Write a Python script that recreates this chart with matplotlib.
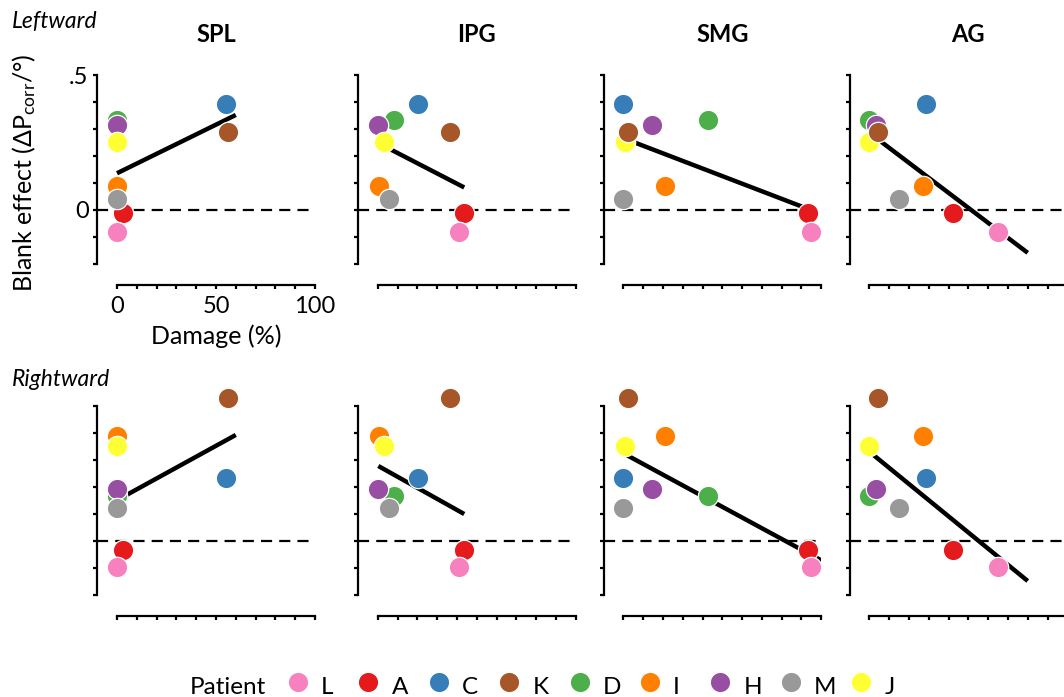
import numpy as np
import matplotlib
matplotlib.use('Agg')
import matplotlib.pyplot as plt
import matplotlib.transforms as mtransforms

# ---------------- data ----------------
patients = ['L', 'A', 'C', 'K', 'D', 'I', 'H', 'M', 'J']
patient_colors = ['#f781bf', '#e41a1c', '#377eb8', '#a65628', '#4daf4a',
                  '#ff7f00', '#984ea3', '#999999', '#ffff33']
regions = ['SPL', 'IPG', 'SMG', 'AG']
directions = ['Leftward', 'Rightward']

# damage (%) per patient, per region
damage_spl = [0, 2.9, 55.0, 56.0, 0, 0, 0, 0, 0]
damage_ipg = [41.2, 43.7, 20.5, 36.7, 8.4, 0.8, 0.3, 5.9, 3.3]
damage_smg = [94.6, 93.1, 0, 2.5, 42.6, 21.2, 14.6, 0, 0.9]
damage_ag = [65.2, 42.4, 28.5, 4.5, 0, 27.3, 3.2, 15.0, 0]

# blank effect per patient
blank_leftward = [-0.081, -0.013, 0.393, 0.288, 0.332, 0.089, 0.314, 0.040, 0.253]
blank_rightward = [-0.097, -0.034, 0.232, 0.528, 0.168, 0.390, 0.191, 0.121, 0.353]

# regression lines (per region)
fit_left_intercept = [0.136, 0.249, 0.266, 0.286]
fit_left_slope = [0.0036, -0.00379, -0.00281, -0.00556]
fit_left_xmin = [0, 0.3, 0, 0]
fit_left_xmax = [60, 43.7, 97, 80]
fit_right_intercept = [0.151, 0.279, 0.325, 0.331]
fit_right_slope = [0.00403, -0.0041, -0.00397, -0.00599]
fit_right_xmin = [0, 0.3, 0, 0]
fit_right_xmax = [60, 43.7, 100, 80]

yticks = [-0.2, -0.1, 0, 0.1, 0.2, 0.3, 0.4, 0.5]
ytick_labels = ['', '', '0', '', '', '', '', '.5']
xticks = [0, 10, 20, 30, 40, 50, 60, 70, 80, 90, 100]
xtick_labels = ['0', '', '', '', '', '50', '', '', '', '', '100']

# drawing order of the patients (which dot sits on top)
draw_order = ['C', 'A', 'L', 'D', 'I', 'H', 'M', 'J', 'K']

# ---------------- style ----------------
plt.rcParams['font.family'] = ['Lato', 'DejaVu Sans']
plt.rcParams['mathtext.fontset'] = 'custom'
plt.rcParams['mathtext.rm'] = 'Lato'
plt.rcParams['mathtext.it'] = 'Lato:italic'
plt.rcParams['mathtext.bf'] = 'Lato:bold'

W, H = 1064, 697
fig = plt.figure(figsize=(W / 100, H / 100), dpi=100)

lefts_px = [97.2, 357.9, 603.5, 849.5]
row_top_px = [75, 406]
ax_w_px = 217.8
ax_h_px = 210

damage = [damage_spl, damage_ipg, damage_smg, damage_ag]
blank = [blank_leftward, blank_rightward]
fits = [(fit_left_intercept, fit_left_slope, fit_left_xmin, fit_left_xmax),
        (fit_right_intercept, fit_right_slope, fit_right_xmin, fit_right_xmax)]

FS = 17
for r in range(2):
    for c in range(4):
        ax = fig.add_axes([lefts_px[c] / W, 1 - (row_top_px[r] + ax_h_px) / H,
                           ax_w_px / W, ax_h_px / H])
        ax.set_xlim(-10, 100)
        ax.set_ylim(-0.278, 0.5)
        for s in ['top', 'right']:
            ax.spines[s].set_visible(False)
        ax.spines['left'].set_bounds(-0.2, 0.5)
        ax.spines['bottom'].set_bounds(0, 100)
        for s in ['left', 'bottom']:
            ax.spines[s].set_linewidth(1.6)
        ax.set_xticks(xticks)
        ax.set_yticks(yticks)
        ax.tick_params(direction='out', length=3.2, width=1.6, labelsize=FS)
        ax.tick_params(axis='y', pad=3)
        ax.tick_params(axis='x', pad=5)
        if r == 0 and c == 0:
            ax.set_yticklabels(ytick_labels)
            ax.set_xticklabels(xtick_labels)
            ax.set_xlabel('Damage (%)', fontsize=18)
            ax.xaxis.set_label_coords(0.545, -0.19)
        else:
            ax.set_yticklabels([])
            ax.set_xticklabels([])

        ax.axhline(0, color='black', lw=1.6, ls=(0, (5, 3.2)), zorder=1)

        b0, b1, xmin, xmax = fits[r]
        xs = np.array([xmin[c], xmax[c]])
        ax.plot(xs, b0[c] + b1[c] * xs, color='black', lw=3.2,
                solid_capstyle='butt', zorder=2)

        for k, p in enumerate(draw_order):
            i = patients.index(p)
            ax.scatter(damage[c][i], blank[r][i], s=215, color=patient_colors[i],
                       edgecolors='white', linewidths=0.9, zorder=3 + k,
                       clip_on=False)

        if r == 0:
            trans = mtransforms.blended_transform_factory(ax.transData, ax.transAxes)
            ax.text(50, 1 + (75 - 42) / ax_h_px, regions[c], transform=trans,
                    ha='center', va='baseline', fontsize=17, fontweight='bold')

# direction labels
fig.text(12 / W, 1 - 28 / H, directions[0], fontsize=16.5, style='italic',
         ha='left', va='baseline')
fig.text(12 / W, 1 - 386 / H, directions[1], fontsize=16.5, style='italic',
         ha='left', va='baseline')

# y label
fig.text(24 / W, 1 - 292 / H, 'Blank effect ($\\Delta$P$_{\\mathrm{corr}}$/°)',
         rotation=90, ha='center', va='bottom', fontsize=18)

# legend
step_px = 70.4
lax = fig.add_axes([(298 - 1.5 * step_px) / W, 0, 10 * step_px / W, 30 / H])
lax.set_xlim(-1.5, 8.5)
lax.set_ylim(0, 30)
lax.axis('off')
lax.text(-1, 3.5, 'Patient', ha='center', va='baseline', fontsize=17.5)
for i, p in enumerate(patients):
    lax.scatter(i, 15, s=215, color=patient_colors[i], edgecolors='white',
                linewidths=0.9, clip_on=False)
    lax.text(i + 0.33, 3.5, p, ha='left', va='baseline', fontsize=17.5)

fig.savefig('out.png', dpi=100)
